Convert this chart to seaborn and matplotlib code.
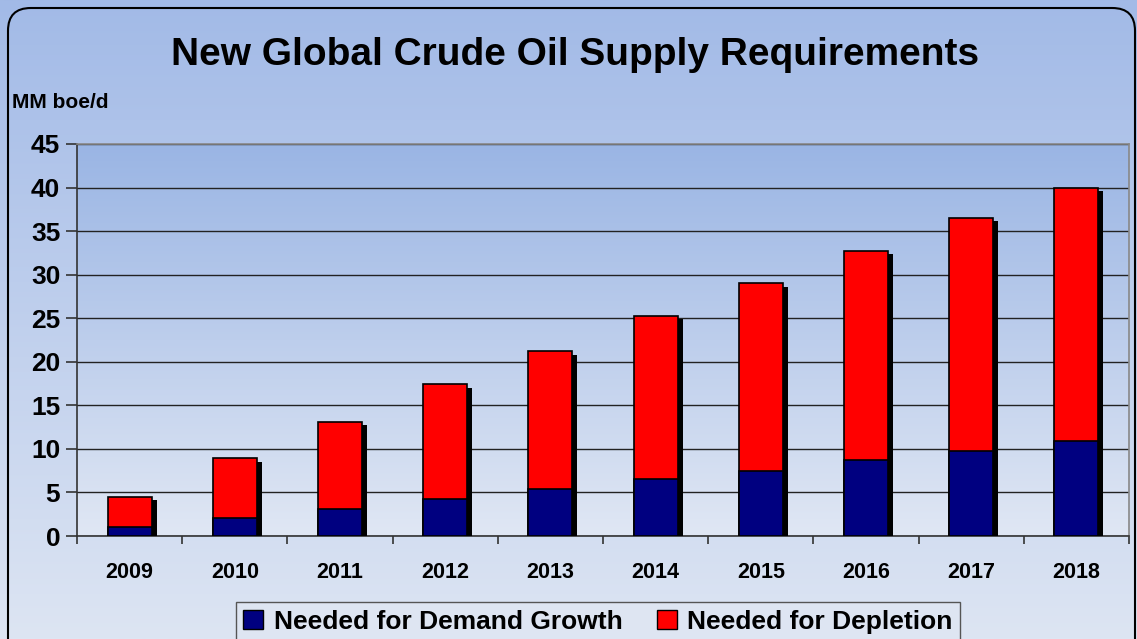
import numpy as np
import pandas as pd
import matplotlib
matplotlib.use("Agg")
import matplotlib.pyplot as plt
import matplotlib.patheffects as pe
from matplotlib.patches import FancyBboxPatch, Patch
from matplotlib.colors import LinearSegmentedColormap
import seaborn as sns

years = ["2009", "2010", "2011", "2012", "2013", "2014", "2015", "2016", "2017", "2018"]
demand_growth = [1.0, 2.1, 3.1, 4.2, 5.4, 6.5, 7.5, 8.7, 9.8, 10.9]
depletion = [3.5, 6.8, 10.0, 13.2, 15.8, 18.8, 21.5, 24.0, 26.7, 29.1]
yticks = [0, 5, 10, 15, 20, 25, 30, 35, 40, 45]

df = pd.DataFrame({"year": years, "demand": demand_growth, "depletion": depletion})
df["total"] = df["demand"] + df["depletion"]

sns.set_theme(style="white")
plt.rcParams["font.family"] = ["Liberation Sans", "DejaVu Sans"]
plt.rcParams["text.color"] = "black"

W, H = 1137, 639
fig = plt.figure(figsize=(W / 100, H / 100), dpi=100)

# figure background gradient
bg = fig.add_axes([0, 0, 1, 1], zorder=-10)
bg.set_axis_off()
cmap_bg = LinearSegmentedColormap.from_list("bg", ["#DDE5F3", "#A2BAE7"])
grad = np.linspace(0, 1, 256).reshape(-1, 1)
bg.imshow(grad, aspect="auto", cmap=cmap_bg, origin="lower", extent=(0, 1, 0, 1))
bg.set_xlim(0, 1)
bg.set_ylim(0, 1)
bg.add_patch(FancyBboxPatch((8 / W, -0.05), (W - 10) / W, 1.05 - 8 / H,
                            boxstyle="round,pad=0,rounding_size=0.02",
                            fill=False, edgecolor="black", lw=1.5,
                            transform=bg.transAxes, mutation_aspect=W / H))

left, right, top, bottom = 77, 1129, 144, 536
ax = fig.add_axes([left / W, 1 - bottom / H, (right - left) / W, (bottom - top) / H])

shadow = [pe.SimplePatchShadow(offset=(3.6, -2.3), shadow_rgbFace="black", alpha=1.0), pe.Normal()]

sns.barplot(data=df, x="year", y="total", color="#FF0000", saturation=1, width=0.42,
            edgecolor="black", linewidth=1.2, ax=ax, zorder=3)
for p in ax.patches:
    p.set_path_effects(shadow)
sns.barplot(data=df, x="year", y="demand", color="#000080", saturation=1, width=0.42,
            edgecolor="black", linewidth=1.2, ax=ax, zorder=4)

# plot-area gradient
cmap_pa = LinearSegmentedColormap.from_list("pa", ["#E0E7F4", "#9AB5E4"])
ax.imshow(grad, aspect="auto", cmap=cmap_pa, origin="lower",
          extent=(-0.5, len(years) - 0.5, 0, 45), zorder=0)
ax.set_xlim(-0.5, len(years) - 0.5)
ax.set_ylim(0, 45)

ax.set_yticks(yticks)
ax.set_yticklabels([str(t) for t in yticks], fontsize=19, fontweight="bold", color="black")
ax.grid(axis="y", color="#222222", lw=1.0)
for gl in ax.get_ygridlines():
    gl.set_zorder(1)

ax.set_xticks(np.arange(-0.5, len(years), 1.0))
ax.set_xticklabels([])
ax.set_xticks(np.arange(len(years)), minor=True)
ax.set_xticklabels(years, minor=True, fontsize=15.5, fontweight="bold", color="black")
ax.tick_params(axis="x", which="major", length=6, width=1.2, color="#333333", direction="out", bottom=True)
ax.tick_params(axis="x", which="minor", length=0, pad=19)
ax.tick_params(axis="y", which="major", length=8, width=1.2, color="#333333", direction="out", left=True, pad=4)
ax.set_xlabel("")
ax.set_ylabel("")
for s in ["top", "right"]:
    ax.spines[s].set_color("#888888")
    ax.spines[s].set_linewidth(1.2)
for s in ["left", "bottom"]:
    ax.spines[s].set_color("#333333")
    ax.spines[s].set_linewidth(1.2)

fig.text(575 / W, 1 - 55 / H, "New Global Crude Oil Supply Requirements",
         ha="center", va="center", fontsize=28, fontweight="bold", color="black")
fig.text(12 / W, 1 - 103 / H, "MM boe/d", ha="left", va="center",
         fontsize=15, fontweight="bold", color="black")

handles = [Patch(facecolor="#000080", edgecolor="black", label="Needed for Demand Growth"),
           Patch(facecolor="#FF0000", edgecolor="black", label="Needed for Depletion")]
leg = fig.legend(handles=handles, loc="center", bbox_to_anchor=(598 / W, 1 - 622 / H),
                 ncol=2, frameon=True, fancybox=False,
                 prop={"weight": "bold", "size": 19},
                 handlelength=0.75, handleheight=0.75, handletextpad=0.4, columnspacing=1.3,
                 borderpad=0.3, labelcolor="black")
leg.get_frame().set_facecolor("#DEE5F2")
leg.get_frame().set_edgecolor("#555555")
leg.get_frame().set_linewidth(1.0)
leg.get_frame().set_alpha(1)

fig.savefig("out.png", dpi=100)
